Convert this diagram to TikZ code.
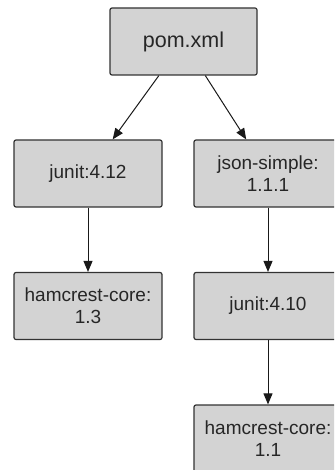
\documentclass[tikz,border=0pt]{standalone}
\usepackage{fontspec}
\setmainfont{Liberation Sans}
\usetikzlibrary{arrows.meta}
\definecolor{boxfill}{HTML}{D3D3D3}
\definecolor{boxline}{HTML}{333333}
\tikzset{
  depbox/.style={draw=boxline, line width=1.2pt, fill=boxfill, rounded corners=2pt,
    minimum width=148pt, minimum height=67pt, align=center, inner sep=0pt,
    font=\fontsize{19}{22}\selectfont, text=black!85},
  arr/.style={draw=black!90, line width=1pt, -{Triangle[length=11pt,width=9pt]}},
}
\begin{document}
\begin{tikzpicture}[x=1pt,y=-1pt]
\clip (0,0) rectangle (334,470);
\useasboundingbox (0,0) rectangle (334,470);
\fill[white] (0,0) rectangle (334,470);
\node[depbox, font=\fontsize{21.5}{24}\selectfont, minimum width=147pt] (pom) at (183.5,41.5) {pom.xml};
\node[depbox] (j412) at (88,173.5) {junit:4.12};
\node[depbox] (json) at (268,173.5) {json-simple:\\1.1.1};
\node[depbox] (h13) at (88,306) {hamcrest-core:\\1.3};
\node[depbox] (j410) at (268,306) {junit:4.10};
\node[depbox] (h11) at (268,438.5) {hamcrest-core:\\1.1};
\draw[arr] (pom) -- (j412);
\draw[arr] (pom) -- (json);
\draw[arr] (j412) -- (h13);
\draw[arr] (json) -- (j410);
\draw[arr] (j410) -- (h11);
\end{tikzpicture}
\end{document}
